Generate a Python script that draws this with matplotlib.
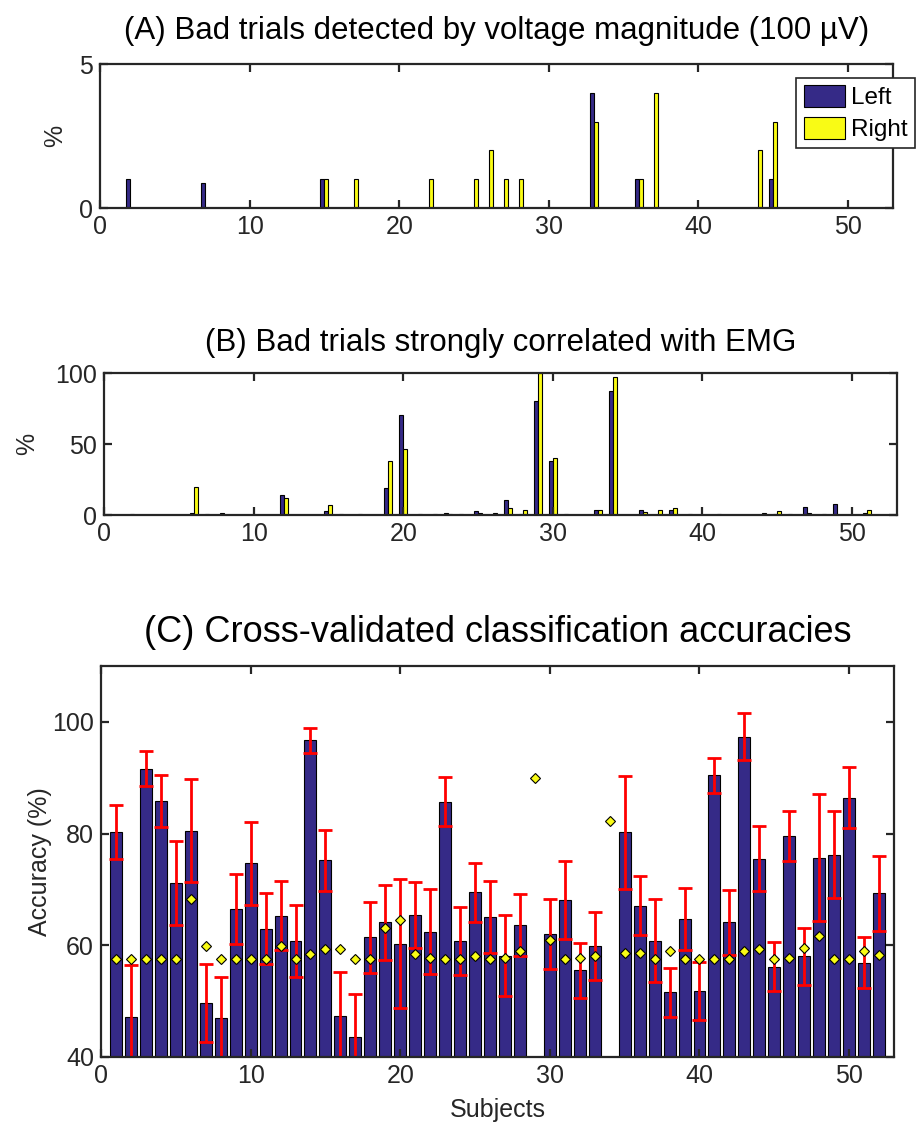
import numpy as np
import matplotlib
matplotlib.use('Agg')
import matplotlib.pyplot as plt

nan = np.nan

subjects = np.arange(1, 53)

# (A) bad trials by voltage magnitude, %
volt_left = [0, 1, 0, 0, 0, 0, 0.86, 0, 0, 0,
             0, 0, 0, 0, 1, 0, 0, 0, 0, 0,
             0, 0, 0, 0, 0, 0, 0, 0, 0, 0,
             0, 0, 4, 0, 0, 1, 0, 0, 0, 0,
             0, 0, 0, 0, 1, 0, 0, 0, 0, 0,
             0, 0]
volt_right = [0, 0, 0, 0, 0, 0, 0, 0, 0, 0,
              0, 0, 0, 0, 1, 0, 1, 0, 0, 0,
              0, 1, 0, 0, 1, 2, 1, 1, 0, 0,
              0, 0, 3, 0, 0, 1, 4, 0, 0, 0,
              0, 0, 0, 2, 3, 0, 0, 0, 0, 0,
              0, 0]

# (B) bad trials correlated with EMG, %
emg_left = [0, 0.5, 0, 0, 0.3, 1.4, 0.5, 1.6, 0, 0,
            0, 14, 0, 0, 2.8, 0.5, 0, 0, 19, 70.3,
            0, 0, 1.6, 0.5, 2.8, 0, 10.5, 0.5, 80.3, 38,
            0.5, 0, 3.5, 87.4, 0, 3.5, 0, 3.5, 0, 0,
            0, 0, 0, 0, 0.5, 0.5, 5.9, 0, 7.7, 0,
            1.6, 0]
emg_right = [0, 0, 0, 0, 0, 19.7, 0, 0, 0, 0,
             0, 12, 0, 0, 6.8, 0, 0.5, 0, 38, 46.8,
             0.5, 0.5, 0.5, 0, 1.4, 1.6, 4.7, 3.5, 100, 39.8,
             0, 0, 3.5, 97.4, 0, 2.3, 3.5, 4.7, 0.5, 0,
             0.5, 0, 0, 1.6, 2.8, 0, 1.6, 0.5, 0, 0,
             3.5, 0]

# (C) accuracies, error and chance level
accuracy = [80.3, 47.2, 91.6, 85.9, 71.2, 80.5, 49.6, 46.9, 66.5, 74.7,
            63.0, 65.3, 60.8, 96.7, 75.2, 47.4, 43.5, 61.4, 64.1, 60.3,
            65.5, 62.4, 85.7, 60.8, 69.5, 65.0, 58.1, 63.6, nan, 62.0,
            68.1, 55.5, 59.9, nan, 80.2, 67.1, 60.8, 51.6, 64.7, 51.8,
            90.4, 64.1, 97.3, 75.5, 56.2, 79.6, 58.0, 75.7, 76.2, 86.4,
            56.9, 69.3]
acc_err = [4.8, 9.2, 3.1, 4.65, 7.5, 9.2, 7.0, 7.5, 6.2, 7.4,
           6.3, 6.2, 6.4, 2.2, 5.4, 7.8, 7.8, 6.4, 6.7, 11.5,
           5.9, 7.6, 4.35, 6.1, 5.25, 6.45, 7.25, 5.5, nan, 6.2,
           7.0, 4.9, 6.1, nan, 10.1, 5.3, 7.4, 4.4, 5.6, 5.25,
           3.2, 5.8, 4.2, 5.8, 4.35, 4.5, 5.15, 11.3, 7.8, 5.45,
           4.5, 6.7]
chance = [57.6, 57.6, 57.6, 57.6, 57.6, 68.2, 59.9, 57.6, 57.6, 57.6,
          57.6, 59.9, 57.6, 58.5, 59.3, 59.3, 57.6, 57.6, 63.1, 64.5,
          58.5, 57.8, 57.6, 57.6, 58.0, 57.6, 57.8, 59.0, 89.9, 60.9,
          57.6, 57.8, 58.0, 82.3, 58.7, 58.7, 57.6, 58.9, 57.6, 57.6,
          57.6, 57.6, 59.0, 59.3, 57.6, 57.8, 59.5, 61.6, 57.6, 57.6,
          59.0, 58.3]

BLUE = '#352a87'
YELLOW = '#f9fb15'
AXC = '#262626'

plt.rcParams['font.family'] = ['Liberation Sans', 'DejaVu Sans']

fig = plt.figure(figsize=(9.19, 11.37), dpi=100)
W, H = 919.0, 1137.0


def make_ax(left, right, top, bottom):
    return fig.add_axes([left / W, 1 - bottom / H, (right - left) / W, (bottom - top) / H])


def style(ax):
    for s in ax.spines.values():
        s.set_linewidth(1.6)
        s.set_color(AXC)
    ax.tick_params(direction='in', top=True, right=True, length=6, width=1.6,
                   colors=AXC, labelsize=18, pad=5)
    ax.set_xlim(0, 53)
    ax.set_xticks(range(0, 51, 10))


def title(ax, text, y, size):
    ax.text(0.5, y, text, transform=ax.transAxes, ha='center', va='center',
            fontsize=size, color='black')


def ylabel(ax, text, x, size=18):
    ax.set_ylabel(text, fontsize=size, color=AXC)
    ax.yaxis.label.set_va('center')
    ax.yaxis.set_label_coords(x, 0.5)


bw = 0.27

axA = make_ax(100, 893, 64, 208)
axA.bar(subjects - bw / 2, volt_left, bw, color=BLUE, edgecolor='black', linewidth=0.8, label='Left')
axA.bar(subjects + bw / 2, volt_right, bw, color=YELLOW, edgecolor='black', linewidth=0.8, label='Right')
style(axA)
axA.set_ylim(0, 5)
axA.set_yticks([0, 5])
ylabel(axA, '%', (55 - 100) / 793)
title(axA, '(A) Bad trials detected by voltage magnitude (100 µV)', 1 + (64 - 31) / 144, 22.5)
leg = fig.legend(loc='upper right', bbox_to_anchor=(915 / W, 1 - 78 / H), fontsize=17.5,
                 fancybox=False, framealpha=1, edgecolor=AXC, handlelength=1.7,
                 handleheight=1.0, borderpad=0.3, labelspacing=0.3, handletextpad=0.25,
                 borderaxespad=0)
leg.get_frame().set_linewidth(1.2)

axB = make_ax(104, 897, 373, 515)
axB.bar(subjects - bw / 2, emg_left, bw, color=BLUE, edgecolor='black', linewidth=0.8)
axB.bar(subjects + bw / 2, emg_right, bw, color=YELLOW, edgecolor='black', linewidth=0.8)
style(axB)
axB.set_ylim(0, 100)
axB.set_yticks([0, 50, 100])
ylabel(axB, '%', (27 - 104) / 793)
title(axB, '(B) Bad trials strongly correlated with EMG', 1 + (373 - 343) / 142, 22.5)

axC = make_ax(101, 894, 666, 1057)
axC.bar(subjects, accuracy, 0.8, color=BLUE, edgecolor='black', linewidth=0.8)
axC.errorbar(subjects, accuracy, yerr=acc_err, fmt='none', ecolor='red',
             elinewidth=2, capsize=5, capthick=2)
axC.plot(subjects, chance, 'D', color=YELLOW, markeredgecolor='black',
         markeredgewidth=0.8, markersize=5)
style(axC)
axC.set_ylim(40, 110)
axC.set_yticks([40, 60, 80, 100])
ylabel(axC, 'Accuracy (%)', (40 - 101) / 793)
axC.set_xlabel('Subjects', fontsize=18, color=AXC)
axC.xaxis.label.set_va('center')
axC.xaxis.set_label_coords(0.5, -(1110 - 1057) / 391)
title(axC, '(C) Cross-validated classification accuracies', 1 + (666 - 632) / 391, 26)

fig.savefig('out.png', dpi=100)
